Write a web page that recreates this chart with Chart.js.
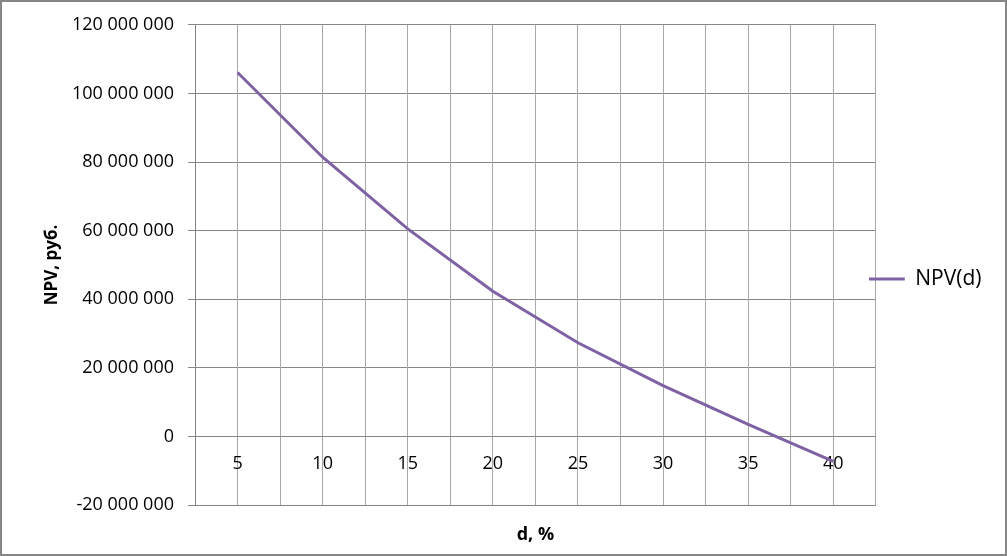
<!DOCTYPE html>
<html>
<head>
<meta charset="utf-8">
<script src="https://cdn.jsdelivr.net/npm/chart.js@4/dist/chart.umd.min.js"></script>
<style>
  html, body { margin: 0; padding: 0; background: #fff; }
  canvas { display: block; }
</style>
</head>
<body>
<canvas id="c" width="1007" height="556"></canvas>
<script>
// ---- data ----
const categories = ['5', '10', '15', '20', '25', '30', '35', '40'];
const npvValues = [106100000, 81400000, 60500000, 42300000, 27300000, 14800000, 3500000, -7300000];
const seriesLabel = 'NPV(d)';
const yTickMin = -20000000;
const yTickMax = 120000000;
const yTickStep = 20000000;
const xTitle = 'd, %';
const yTitle = 'NPV, руб.';

const FONT = 'Open Sans';
const GRID_H = '#868686';
const GRID_V = '#A8A8A8';

function fmt(v) {
  const s = String(Math.abs(Math.round(v))).replace(/\B(?=(\d{3})+(?!\d))/g, ' ');
  return (v < 0 ? '-' : '') + s;
}

const frame = {
  id: 'frame',
  beforeDraw(chart) {
    const ctx = chart.ctx;
    ctx.save();
    ctx.fillStyle = '#fff';
    ctx.fillRect(0, 0, chart.width, chart.height);
    ctx.restore();
  },
  afterDraw(chart) {
    const ctx = chart.ctx;
    ctx.save();
    ctx.strokeStyle = '#868686';
    ctx.lineWidth = 2;
    ctx.strokeRect(1, 1, chart.width - 2, chart.height - 2);
    ctx.restore();
  }
};

const legendNudge = {
  id: 'legendNudge',
  afterLayout(chart) {
    const lg = chart.legend;
    if (!lg) return;
    const dx = -7, dy = -10;
    lg.left += dx; lg.right += dx;
    lg.top += dy; lg.bottom += dy;
  }
};

new Chart(document.getElementById('c'), {
  type: 'line',
  data: {
    labels: categories,
    datasets: [{
      label: seriesLabel,
      data: npvValues,
      borderColor: '#7F62A4',
      backgroundColor: '#7F62A4',
      borderWidth: 3,
      pointRadius: 0,
      pointHoverRadius: 0,
      tension: 0,
      fill: false,
      xAxisID: 'x',
      yAxisID: 'y'
    }]
  },
  options: {
    responsive: false,
    animation: false,
    events: [],
    layout: { padding: { top: 22, right: 8.5, bottom: 0, left: 0 } },
    plugins: {
      tooltip: { enabled: false },
      legend: {
        position: 'right',
        labels: {
          usePointStyle: true,
          pointStyle: 'line',
          pointStyleWidth: 36,
          boxHeight: 21,
          padding: 0,
          color: '#000',
          font: { family: FONT, size: 21 }
        }
      }
    },
    scales: {
      y: {
        position: 'left',
        min: yTickMin,
        max: yTickMax,
        ticks: {
          stepSize: yTickStep,
          color: '#000',
          font: { family: FONT, size: 18 },
          padding: 14,
          callback: (v) => fmt(v)
        },
        grid: { color: GRID_H, tickColor: GRID_H, tickLength: 7, lineWidth: 1 },
        border: { color: GRID_H, width: 1 },
        title: {
          display: true,
          text: yTitle,
          color: '#000',
          font: { family: FONT, size: 17, weight: 'bold' },
          padding: { top: 42, bottom: 0 }
        },
        afterFit: (s) => { s.width = 195; }
      },
      x: {
        type: 'category',
        position: { y: 0 },
        offset: true,
        ticks: {
          color: '#000',
          font: { family: FONT, size: 18 },
          padding: 17,
          maxRotation: 0,
          autoSkip: false
        },
        grid: { color: GRID_V, offset: true, drawTicks: false, lineWidth: 1 },
        border: { color: GRID_H, width: 1 }
      },
      x2: {
        type: 'category',
        position: 'bottom',
        labels: categories,
        offset: true,
        ticks: { display: false },
        grid: { color: GRID_V, offset: false, drawTicks: false, lineWidth: 1 },
        border: { display: false },
        title: {
          display: true,
          text: xTitle,
          color: '#000',
          font: { family: FONT, size: 18, weight: 'bold' },
          padding: { top: 0, bottom: 10 }
        },
        afterFit: (s) => { s.height = 51; }
      }
    }
  },
  plugins: [frame, legendNudge]
});
</script>
</body>
</html>
